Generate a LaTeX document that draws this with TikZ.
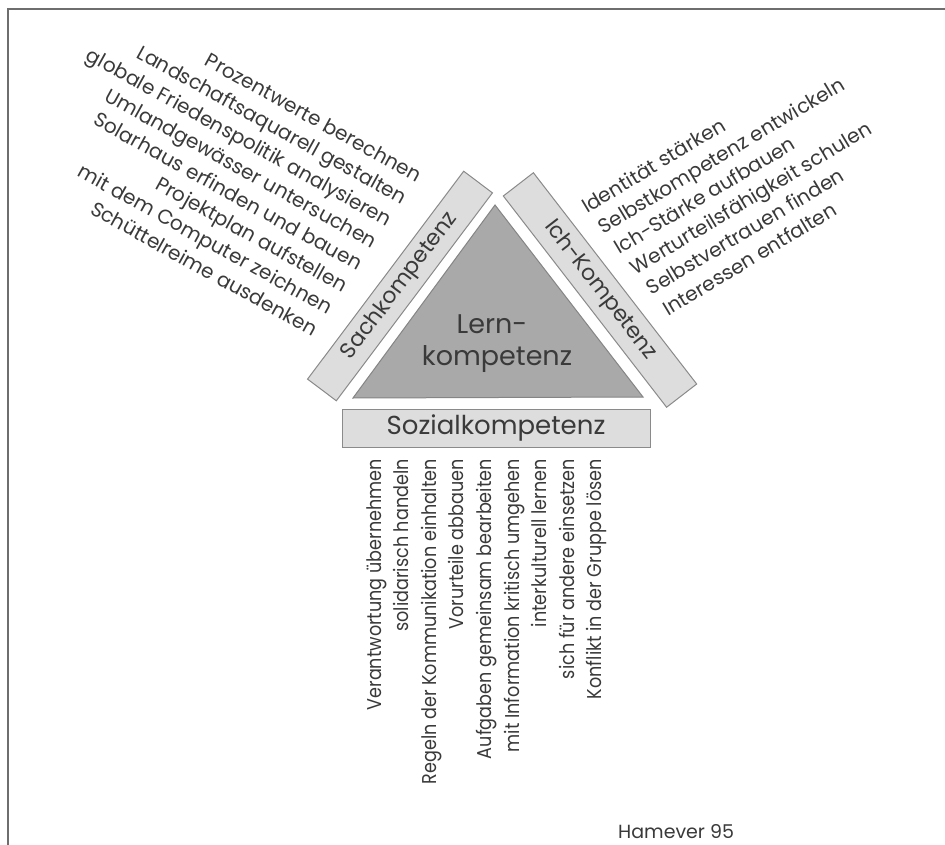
\documentclass[tikz,border=0pt]{standalone}
\usepackage{fontspec}
\setmainfont{Poppins}
\newfontfamily\condfont{Poppins}[FakeStretch=0.88]
\definecolor{txt}{HTML}{3A3A3A}
\definecolor{trifill}{HTML}{A9A9A9}
\definecolor{tridraw}{HTML}{858585}
\definecolor{boxfill}{HTML}{DDDDDD}
\definecolor{boxdraw}{HTML}{8A8A8A}
\definecolor{framec}{HTML}{6E6E6E}
\begin{document}
\begin{tikzpicture}[x=1pt,y=-1pt,
  every node/.style={text=txt, inner sep=0pt},
  compbox/.style={draw=boxdraw, fill=boxfill, line width=1pt},
  sachitem/.style={anchor=base east, rotate=-29, font=\fontsize{20}{20}\selectfont},
  ichitem/.style={anchor=base west, rotate=31, font=\fontsize{20}{20}\selectfont},
  sozitem/.style={anchor=base east, rotate=90, font=\condfont\fontsize{20}{20}\selectfont}]
\useasboundingbox (0,0) rectangle (945,845);
\fill[white] (0,0) rectangle (945,845);
\draw[framec, line width=2pt] (8,845) -- (8,9) -- (945,9);
% triangle
\coordinate (tl) at (353,398);
\coordinate (tt) at (495,205);
\coordinate (tr) at (643,397);
\draw[fill=trifill, draw=tridraw, line width=1pt] (tl) -- (tt) -- (tr) -- cycle;
\node[anchor=base, font=\fontsize{27}{27}\selectfont] (lern1) at (492,333) {Lern-};
\node[anchor=base, font=\fontsize{27}{27}\selectfont] (lern2) at (497,365) {kompetenz};
% boxes
\node[compbox, rotate=53.1, minimum width=260, minimum height=36, font=\fontsize{22}{22}\selectfont] (sach) at (400,286) {Sachkompetenz};
\node[compbox, rotate=-52.3, minimum width=267, minimum height=38, font=\fontsize{22}{22}\selectfont] (ich) at (600,290) {Ich-Kompetenz};
\node[compbox, minimum width=308, minimum height=38, font=\fontsize{26}{26}\selectfont] (sozial) at (496,428) {Sozialkompetenz};
% Sach items
\node[sachitem] (s1) at (417.0,183.0) {Prozentwerte berechnen};
\node[sachitem] (s2) at (402.1,205.0) {Landschaftsaquarell gestalten};
\node[sachitem] (s3) at (387.2,227.0) {globale Friedenspolitik analysieren};
\node[sachitem] (s4) at (372.3,249.0) {Umlandgewässer untersuchen};
\node[sachitem] (s5) at (357.4,271.0) {Solarhaus erfinden und bauen};
\node[sachitem] (s6) at (342.5,293.0) {Projektplan aufstellen};
\node[sachitem] (s7) at (327.6,315.0) {mit dem Computer zeichnen};
\node[sachitem] (s8) at (312.7,337.0) {Schüttelreime ausdenken};
% Ich items
\node[ichitem] (i1) at (587.0,214.0) {Identität stärken};
\node[ichitem] (i2) at (603.2,234.5) {Selbstkompetenz entwickeln};
\node[ichitem] (i3) at (619.4,255.0) {Ich-Stärke aufbauen};
\node[ichitem] (i4) at (635.6,275.5) {Werturteilsfähigkeit schulen};
\node[ichitem] (i5) at (651.8,296.0) {Selbstvertrauen finden};
\node[ichitem] (i6) at (668.0,316.5) {Interessen entfalten};
% Sozial items
\node[sozitem] (z1) at (381.0,459) {Verantwortung übernehmen};
\node[sozitem] (z2) at (408.6,459) {solidarisch handeln};
\node[sozitem] (z3) at (436.2,459) {Regeln der Kommunikation einhalten};
\node[sozitem] (z4) at (463.8,459) {Vorurteile abbauen};
\node[sozitem] (z5) at (491.4,459) {Aufgaben gemeinsam bearbeiten};
\node[sozitem] (z6) at (519.0,459) {mit Information kritisch umgehen};
\node[sozitem] (z7) at (546.6,459) {interkulturell lernen};
\node[sozitem] (z8) at (574.2,459) {sich für andere einsetzen};
\node[sozitem] (z9) at (601.8,459) {Konflikt in der Gruppe lösen};
\node[anchor=base west, font=\fontsize{19}{19}\selectfont] (author) at (618,838) {Hamever 95};
\end{tikzpicture}
\end{document}
